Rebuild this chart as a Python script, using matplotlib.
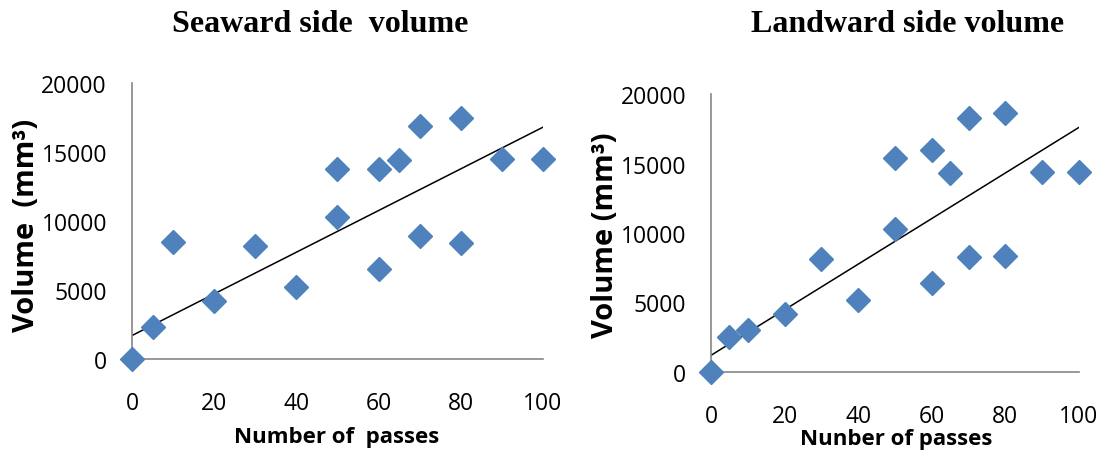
import matplotlib
matplotlib.use("Agg")
from matplotlib import pyplot as plt

# passes vs. measured volume (mm^3)
passes = [0, 5, 10, 20, 30, 40, 50, 50, 60, 60, 65, 70, 70, 80, 80, 90, 100]
seaward = [0, 2300, 8500, 4200, 8200, 5200, 13800, 10300, 13800, 6500,
           14400, 16900, 8900, 17500, 8400, 14500, 14500]
landward = [0, 2500, 3000, 4200, 8100, 5150, 15400, 10300, 16000, 6400,
            14300, 18300, 8300, 18600, 8350, 14400, 14400]

# linear trendlines (end points at 0 and 100 passes)
trend_x = [0, 100]
trend_sea = [1700, 16800]
trend_land = [1200, 17600]

xticks = [0, 20, 40, 60, 80, 100]
yticks = [0, 5000, 10000, 15000, 20000]

plt.rcParams['font.family'] = ['Open Sans', 'DejaVu Sans']

fig = plt.figure(figsize=(11.07, 4.52), dpi=100)
ax1 = fig.add_axes([0.1192, 0.2035, 0.3713, 0.6106])
ax2 = fig.add_axes([0.6423, 0.1748, 0.3324, 0.615])

for ax, vals, tr in [(ax1, seaward, trend_sea), (ax2, landward, trend_land)]:
    ax.plot(trend_x, tr, '-', color='black', lw=1.1, zorder=2)
    ax.plot(passes, vals, 'D', color='#4F81BD', ms=12, mec='#4F81BD',
            ls='none', clip_on=False, zorder=3)
    ax.set_xlim(0, 100)
    ax.set_ylim(0, 20000)
    ax.set_xticks(xticks)
    ax.set_yticks(yticks)
    ax.tick_params(length=0, labelsize=16.5, colors='black')
    ax.tick_params(axis='x', pad=23)
    ax.tick_params(axis='y', pad=18)
    for s in ['top', 'right']:
        ax.spines[s].set_visible(False)
    for s in ['left', 'bottom']:
        ax.spines[s].set_color('#868686')
        ax.spines[s].set_linewidth(1.2)
    ax.set_facecolor('none')

fig.text(0.289, 0.945, 'Seaward side  volume', family='Liberation Serif',
         weight='bold', fontsize=23, ha='center', va='center')
fig.text(0.820, 0.945, 'Landward side volume', family='Liberation Serif',
         weight='bold', fontsize=23, ha='center', va='center')

fig.text(0.0235, 0.502, 'Volume  (mm³)', rotation=90, weight='bold',
         fontsize=21, ha='center', va='center')
fig.text(0.547, 0.480, 'Volume (mm³)', rotation=90, weight='bold',
         fontsize=21, ha='center', va='center')

fig.text(0.304, 0.031, 'Number of  passes', weight='bold', fontsize=16,
         ha='center', va='center')
fig.text(0.810, 0.027, 'Nunber of passes', weight='bold', fontsize=16,
         ha='center', va='center')

fig.savefig('out.png', dpi=100)
